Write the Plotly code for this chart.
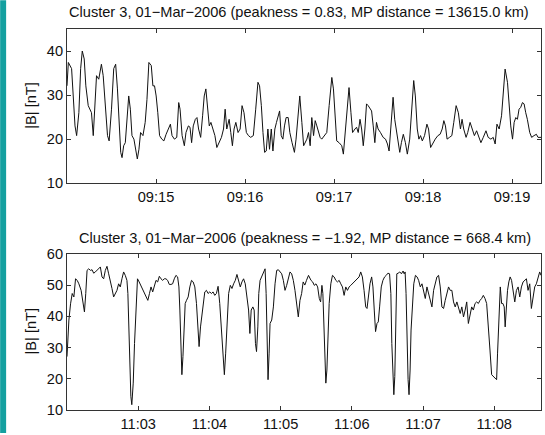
import pandas as pd
import plotly.graph_objects as go

# ---------------- data ----------------
top_start = "2006-03-01 09:14:00"
bot_start = "2006-03-01 11:02:00"
day = "2006-03-01"

top_title = "Cluster 3, 01\u2212Mar\u22122006 (peakness = 0.83, MP distance = 13615.0 km)"
bot_title = "Cluster 3, 01\u2212Mar\u22122006 (peakness = \u22121.92, MP distance = 668.4 km)"

top_xticklabels = ["09:15", "09:16", "09:17", "09:18", "09:19"]
bot_xticklabels = ["11:03", "11:04", "11:05", "11:06", "11:07", "11:08"]
top_yticks = [10, 20, 30, 40]
bot_yticks = [10, 20, 30, 40, 50, 60]

# seconds after top_start
top_sec = [0, 0.9, 3.1, 4.7, 5.4, 6.5, 8.0, 9.2, 10.3, 11.6,
           12.7, 14.3, 15.4, 16.5, 17.7, 18.8, 19.9, 21.4, 23.2, 24.4,
           25.9, 27.3, 28.4, 30.0, 31.5, 32.8, 34.0, 35.1, 36.2, 37.1,
           38.2, 39.3, 40.7, 41.6, 42.7, 43.8, 45.1, 46.3, 47.4, 48.5,
           49.6, 51.2, 52.7, 53.9, 55.2, 56.8, 57.9, 59.0, 60.1, 61.2,
           62.4, 63.9, 65.3, 66.8, 68.4, 69.7, 70.8, 72.4, 74.0, 75.3,
           76.2, 77.6, 79.1, 80.2, 81.8, 82.9, 84.0, 85.1, 86.5, 87.6,
           88.7, 90.1, 91.4, 92.5, 93.6, 94.8, 95.9, 97.0, 98.1, 99.7,
           101.0, 102.6, 104.1, 105.5, 106.6, 107.7, 109.3, 110.4, 111.5, 112.6,
           113.8, 115.3, 116.7, 118.0, 119.3, 120.9, 122.3, 123.8, 125.6, 127.2,
           128.7, 129.8, 131.0, 132.1, 133.2, 134.3, 135.4, 136.5, 137.7, 138.8,
           140.1, 141.2, 142.4, 143.3, 144.4, 145.5, 146.6, 147.7, 149.1, 150.2,
           151.7, 153.3, 154.4, 155.8, 156.9,
           158.3, 159.5, 161.7, 162.8, 163.9, 165.0, 166.2, 167.3, 168.4, 169.5,
           170.6, 171.7, 173.3, 175.1, 176.7, 178.5, 179.6, 180.7, 181.8, 183.4,
           185.2, 186.3, 187.4, 189.0, 190.1, 191.4, 192.5, 194.1, 195.2, 196.3,
           197.5, 198.6, 199.7, 200.8, 201.9, 203.0, 204.2, 205.3, 206.4, 207.5,
           208.6, 209.7, 211.3, 213.1, 214.7, 216.0, 217.1, 218.7, 219.8, 220.9,
           222.0, 223.2, 224.3, 225.4, 226.7, 228.1, 229.4, 231.0, 232.3, 233.7,
           234.8, 236.1, 237.2, 238.3, 239.5, 241.0, 242.6, 243.7, 245.1, 246.6,
           248.2, 250.0, 251.5, 252.9, 254.0, 255.1, 256.2, 257.8, 259.4, 260.7,
           262.3, 263.8, 265.2, 266.3, 267.4, 269.0, 270.1, 271.7, 273.0, 274.6,
           276.1, 277.5, 279.0, 280.6, 282.4, 283.9, 285.7, 287.3, 288.6, 289.8,
           291.3, 292.9, 294.0, 295.3, 296.9, 298.0, 299.1, 300.3, 301.4, 302.5,
           303.6, 304.7, 305.8, 307.0, 308.1, 309.2, 310.3, 311.9, 313.2, 314.8,
           316.4, 317.5, 319.5]
top_b = [32.1, 37.4, 36, 27.6, 23, 20.8, 26, 36, 40, 38.2,
         32.1, 27.6, 26.8, 26, 20.8, 27.6, 34.4, 33.6, 37, 34.4,
         27.6, 20.8, 19.6, 26.8, 36, 37, 31.4, 22.3, 17, 15.8,
         18.5, 19.2, 25.3, 29.8, 26.8, 20.8, 20, 17, 15.5, 17.7,
         21.5, 20.8, 23.8, 29, 37.4, 36.7, 32.1, 32.1, 29.8, 26,
         20.8, 20, 19.6, 21.1, 22.3, 23.4, 20.8, 20, 20.4, 28.3,
         26.8, 20.8, 18.5, 21.5, 23, 22.7, 19.2, 23, 24.5, 24.9,
         22.3, 20.4, 25.3, 29.8, 31.4, 27.6, 23, 23.8, 22.3, 20.8,
         18.1, 19.2, 20.4, 22.3, 26.8, 22.3, 24.5, 21.5, 18.5, 22.3,
         23.8, 21.5, 22.3, 27.6, 26, 21.5, 20.8, 20.4, 20.8, 26.8,
         32.9, 32.1, 27.6, 21.5, 17, 17.3, 22.3, 17.7, 22.3, 17.3,
         22.3, 23.8, 25.3, 26.4, 20.8, 20, 23, 24.9, 24.9, 21.5,
         19.2, 17, 20, 26, 29.8,
         23.8, 18.5, 20, 21.5, 18.5, 24.9, 20.8, 24.2, 23, 21.5,
         20.4, 20, 20.8, 21.5, 27.6, 34, 31.4, 25.3, 19.6, 19.2,
         18.5, 16.6, 20.8, 27.6, 31.7, 26, 21.5, 22.3, 22.7, 21.5,
         24.5, 22.3, 18.5, 22.3, 28, 27.6, 26.8, 26.4, 23, 19.2,
         23.8, 22.3, 21.5, 20.4, 20, 18.9, 17.3, 23.8, 29.5, 24.5,
         22.3, 19.2, 17, 19.2, 21.1, 19.2, 16.6, 20, 26, 33.3,
         29.8, 22.3, 20, 20.8, 19.6, 20.8, 23.4, 22.3, 18.1, 19.2,
         20, 20.8, 21.1, 22.3, 24.2, 23, 20, 20.4, 20.8, 23.8,
         27.6, 26, 22.3, 24.5, 22.3, 20.4, 21.5, 23.8, 22.3, 20.8,
         21.9, 20.4, 19.2, 20.4, 21.9, 20.4, 20, 20.4, 18.9, 23.4,
         22.3, 25.3, 29.8, 35.9, 32.9, 27.6, 23, 20, 23.8, 24.9,
         24.5, 26.8, 27.2, 28.3, 28, 26, 24.5, 21.5, 20.4, 20.8,
         21.1, 20.4, 20.4]

# seconds after bot_start
bot_sec = [0, 1.6, 3.0, 4.4, 5.8, 7.2, 8.6, 10.0, 11.9, 13.6,
           14.7, 15.8, 16.9, 18.3, 19.7, 21.1, 22.5, 23.9, 25.3, 26.7,
           28.1, 29.5, 30.9, 32.3, 33.7, 35.1, 36.5, 37.9, 39.3, 40.7,
           42.1, 43.5, 44.9, 46.3, 47.7, 49.1, 50.5, 51.3, 52.1, 53.0,
           53.8, 54.6, 55.8, 56.9, 58.0, 59.4, 60.8, 62.2, 63.6, 65.0,
           66.7, 68.1, 69.5, 70.8, 72.2, 73.6, 75.0, 76.4, 77.8, 79.2,
           80.6, 82.0, 83.4, 84.8, 86.2, 87.6, 89.0, 90.4, 91.8, 93.2,
           94.3, 95.1, 96.0, 96.8, 97.7, 98.5, 99.6, 100.7, 102.1, 103.5,
           104.9, 106.3, 107.7, 109.1, 110.2, 111.3, 112.5, 113.6, 114.7, 116.1,
           117.5, 118.9, 120.3, 121.7, 123.1, 124.5, 125.9, 127.3, 128.7, 130.1,
           131.5, 132.6, 133.7, 134.8, 136.2, 137.6, 139.0, 140.4, 141.8, 143.2,
           144.6, 146.0, 147.4, 148.8, 150.2, 151.6, 153.0, 154.1, 155.2, 156.6,
           157.7, 158.8, 159.7, 160.8, 161.6, 162.7, 164.1, 165.5, 166.9, 167.8,
           168.6, 169.4, 170.3, 171.1, 172.5, 173.9, 175.3, 176.7, 178.1, 179.5,
           180.9, 182.3, 183.7, 185.1, 186.5, 187.9, 189.3, 190.7, 192.1, 193.7,
           194.9, 196.3, 197.7, 199.0, 200.4, 201.8, 203.5,
           205.6, 207.0, 208.4, 209.8, 211.2, 212.6, 213.7, 214.8, 215.6, 216.5,
           217.3, 218.1, 219.0, 219.8, 220.9, 222.3, 223.7, 225.1, 226.5, 227.9,
           229.3, 230.7, 232.1, 233.5, 234.9, 236.3, 237.7, 239.1, 240.5, 241.9,
           243.3, 244.7, 246.1, 247.5, 248.9, 250.3, 251.7, 252.8, 253.9, 255.3,
           256.7, 257.8, 258.9, 260.0, 261.2, 262.3, 263.4, 264.8, 266.2, 267.6,
           269.0, 270.4, 271.8, 272.9, 273.7, 274.6, 275.4, 276.2, 277.1, 277.9,
           279.0, 280.4, 281.8, 283.2, 284.1, 284.9, 285.7, 286.6, 287.4, 288.2,
           289.1, 289.9, 291.0, 292.2, 293.6, 295.0, 296.3, 297.7, 299.1, 300.5,
           301.9, 303.3, 304.7, 306.1, 307.5, 308.9, 310.3, 311.7, 313.1, 314.5,
           315.9, 317.3, 318.7, 320.1, 321.5, 322.9, 324.3, 325.7, 327.1, 328.5,
           329.9, 331.3, 332.7, 334.1, 335.5, 336.8, 338.2, 339.6, 341.0, 342.4,
           343.8, 345.2, 346.6, 348.0, 349.4, 350.8, 352.2, 353.6, 355.0, 356.4,
           357.8, 359.2, 360.6, 362.0, 362.8, 363.9, 365.1, 366.2, 367.3, 368.4,
           369.2, 370.1, 371.2, 372.3, 373.4, 374.6, 376.0, 377.3, 378.7, 380.1,
           381.5, 382.9, 384.3, 385.7, 387.1, 388.5, 389.9, 391.3, 392.7, 394.1,
           395.5, 396.9, 398.3, 399.4]
bot_b = [27.1, 38.8, 44, 47.3, 46.2, 52, 51.5, 50.4, 48.3, 44,
         41.4, 47.3, 54.7, 55.2, 54.7, 54.9, 53.8, 54.2, 54.7, 55.2,
         55.8, 52.6, 52, 54.7, 56, 53.6, 51.5, 48.9, 46.2, 47.3,
         48.3, 50.4, 49.4, 52, 54.2, 53.1, 51.5, 47.3, 36.6, 25,
         14.4, 11.7, 18.6, 31.3, 42, 52, 51, 49.9, 48.9, 47.3,
         46.2, 45.1, 47.3, 49.4, 47.8, 49.9, 51.5, 51, 52.8, 52,
         51.5, 52, 52, 51.5, 50.2, 50.2, 50.4, 52, 53.1, 52.6,
         49.4, 42, 31.3, 21.3, 27.1, 36.6, 44.1, 45.1, 46.2, 49.4,
         51.5, 51, 49.4, 44.1, 35.6, 30.3, 36.6, 39.8, 42, 47.8,
         48.3, 47.3, 47.8, 47.3, 47.8, 46.7, 47.3, 49.6, 44.1, 35.6,
         27.1, 21.3, 28.2, 38.8, 47.3, 49.9, 48.9, 50.4, 51.5, 53.4,
         51.5, 49.4, 51, 52, 50.4, 46.2, 42, 34.5, 42, 43,
         42, 31.3, 28.7, 36.6, 47.3, 51.5, 52.6, 53.6, 55.2, 47.3,
         31.3, 19.7, 28.2, 37.7, 38.8, 43, 50.4, 54.7, 54.9, 54.2,
         53.6, 51.5, 48.3, 49.9, 52.6, 54.2, 53.6, 51.5, 48.3, 43,
         39.8, 45.1, 47.3, 51, 50, 51.5, 53.1,
         51.5, 51, 49.9, 50.4, 49.4, 45.7, 44.6, 49.9, 47.3, 36.6,
         25, 18.6, 22.8, 33.5, 44.1, 50.4, 53.1, 52.6, 51.5, 51,
         51.5, 50.4, 49.4, 46.7, 49.4, 48.3, 49.4, 49.9, 50.4, 51,
         51.5, 52, 52.6, 54.2, 52.6, 48.3, 43, 42.5, 46.2, 50.4,
         52.6, 49.4, 42, 35.1, 37.7, 38.2, 43, 49.4, 51.5, 52.6,
         53.1, 53.8, 53.6, 47.3, 31.3, 20.7, 14.9, 20.7, 36.6, 53.6,
         53.8, 54.2, 53.6, 54.5, 53.6, 54.2, 47.3, 31.3, 19.7, 14.9,
         22.8, 35.6, 45.1, 50.4, 53.1, 52.6, 51.5, 49.4, 50.4, 47.8,
         45.7, 49.4, 47.3, 44.6, 43, 48.3, 50.4, 52.6, 53.1, 49.4,
         43, 42.5, 45.1, 47.3, 49.4, 48.3, 48.3, 44.6, 43, 44.6,
         42.5, 40.9, 43, 39.8, 42, 44.6, 37.7, 40.9, 43, 42,
         44.1, 44.6, 44.1, 45.1, 45.7, 46.7, 45.7, 44.1, 37.7, 29.2,
         21.3, 20.7, 20.2, 19.7, 28.2, 42, 49.4, 44.1, 44.1, 43,
         36.6, 42, 48.3, 51, 52.6, 51.5, 47.3, 44.6, 48.3, 49.4,
         46.2, 49.4, 51, 51.5, 52, 48.3, 50.4, 42.5, 46.2, 49.4,
         50.4, 52.6, 54.2, 53.1]

# ---------------- figure ----------------
t0_top = pd.Timestamp(top_start)
t0_bot = pd.Timestamp(bot_start)
top_x = t0_top + pd.to_timedelta(top_sec, unit="s")
bot_x = t0_bot + pd.to_timedelta(bot_sec, unit="s")
top_xtickvals = [pd.Timestamp(f"{day} {s}") for s in top_xticklabels]
bot_xtickvals = [pd.Timestamp(f"{day} {s}") for s in bot_xticklabels]

FONT = "Liberation Sans, Arial, Helvetica, sans-serif"
FS = 14.6
LINE = dict(color="#111111", width=1)

fig = go.Figure()
fig.add_trace(go.Scatter(x=top_x, y=top_b, mode="lines", line=LINE,
                         xaxis="x", yaxis="y", showlegend=False))
fig.add_trace(go.Scatter(x=bot_x, y=bot_b, mode="lines", line=LINE,
                         xaxis="x2", yaxis="y2", showlegend=False))

W, H = 545, 435
ml, mr, mt, mb = 67, 3, 29, 23
pw, ph = W - ml - mr, H - mt - mb

def py(pix):  # pixel y -> paper fraction
    return (H - mb - pix) / ph

def px(pix):
    return (pix - ml) / pw

ax_common = dict(showgrid=False, zeroline=False, showline=True,
                 linecolor="#333333", linewidth=1, mirror="ticks",
                 ticks="inside", ticklen=4, tickwidth=1, tickcolor="#333333",
                 tickfont=dict(family=FONT, size=FS, color="#111111"))

fig.update_layout(
    width=W, height=H,
    margin=dict(l=ml, r=mr, t=mt, b=mb),
    paper_bgcolor="white", plot_bgcolor="white",
    xaxis=dict(domain=[0, 1], anchor="y", type="date",
               range=[t0_top, t0_top + pd.Timedelta(seconds=319.5)],
               tickvals=top_xtickvals, ticktext=top_xticklabels, **ax_common),
    yaxis=dict(domain=[py(184), py(29)], anchor="x", range=[10, 45],
               tickvals=top_yticks, **ax_common),
    xaxis2=dict(domain=[0, 1], anchor="y2", type="date",
                range=[t0_bot, t0_bot + pd.Timedelta(seconds=399.4)],
                tickvals=bot_xtickvals, ticktext=bot_xticklabels, **ax_common),
    yaxis2=dict(domain=[py(412), py(255)], anchor="x2", range=[10, 60],
                tickvals=bot_yticks, **ax_common),
)

ann_font = dict(family=FONT, size=FS, color="#111111")
fig.add_annotation(text=top_title, xref="paper", yref="paper",
                   x=px(299), y=py(12), xanchor="center", yanchor="middle",
                   showarrow=False, font=ann_font)
fig.add_annotation(text=bot_title, xref="paper", yref="paper",
                   x=px(306), y=py(239), xanchor="center", yanchor="middle",
                   showarrow=False, font=ann_font)
for yc in (py(106), py(333)):
    fig.add_annotation(text="|B| [nT]", xref="paper", yref="paper",
                       x=px(31), y=yc, xanchor="center", yanchor="middle",
                       textangle=-90, showarrow=False, font=ann_font)

# teal strip on the left edge of the page
fig.add_shape(type="rect", xref="paper", yref="paper",
              x0=px(0), x1=px(6), y0=py(H), y1=py(0),
              fillcolor="#14a0a0", line=dict(width=0), layer="above")

fig.write_html("out.html")
